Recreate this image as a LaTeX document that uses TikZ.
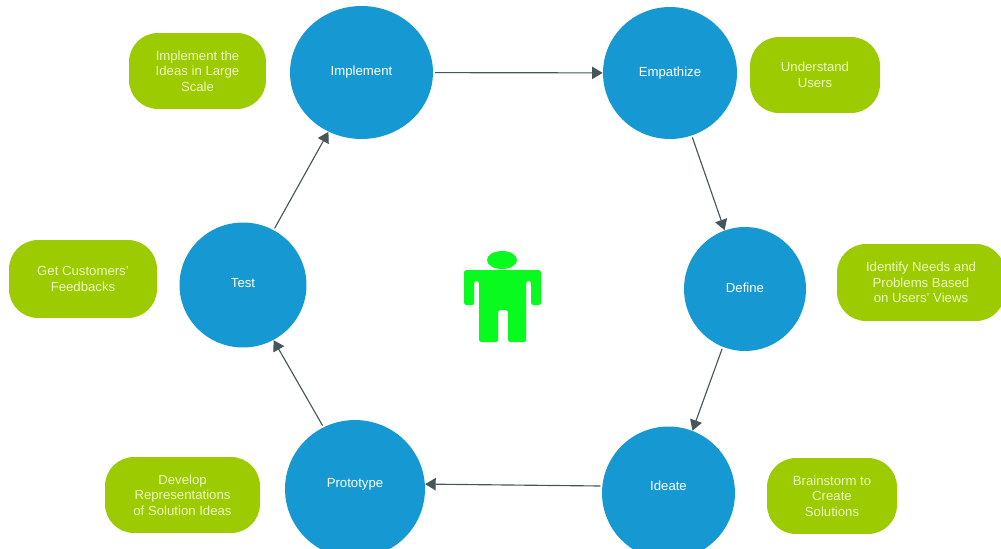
\documentclass[tikz,border=0pt]{standalone}
\usepackage{fontspec}
\setmainfont{Liberation Sans}
\usetikzlibrary{arrows.meta,shapes.geometric}
\definecolor{phaseblue}{HTML}{1699D3}
\definecolor{noteleaf}{HTML}{9BCB00}
\definecolor{figgreen}{HTML}{08FA1E}
\definecolor{flowgray}{HTML}{45575B}
\definecolor{notetext}{HTML}{EEF8C4}
\newcommand{\liftby}[2]{\raisebox{#1}[\height][\depth]{#2}}
\tikzset{
  phase/.style={ellipse,fill=phaseblue,text=white,inner sep=0pt,font=\fontsize{7.5}{9}\selectfont},
  note/.style={rectangle,rounded corners=0.58cm,fill=noteleaf,text=notetext,inner sep=0pt,align=center,font=\fontsize{7.5}{8.9}\selectfont},
  flow/.style={draw=flowgray,line width=0.65pt,-{Triangle[length=6pt,width=7pt]},shorten <=1pt}
}
\begin{document}
\begin{tikzpicture}[x=0.02cm,y=-0.02cm]
\useasboundingbox (0,0) rectangle (1001,548);
% phases
\node[phase,minimum width=2.86cm,minimum height=2.66cm] (implement) at (361.5,72.5) {\liftby{0.2pt}{Implement}};
\node[phase,minimum width=2.68cm,minimum height=2.64cm] (empathize) at (670,73) {Empathize};
\node[phase,minimum width=2.44cm,minimum height=2.48cm] (define) at (745,289) {\liftby{0.6pt}{Define}};
\node[phase,minimum width=2.66cm,minimum height=2.66cm] (ideate) at (668.5,493) {\liftby{4pt}{Ideate}};
\node[phase,minimum width=2.80cm,minimum height=2.76cm] (prototype) at (355,489) {\liftby{2.9pt}{Prototype}};
\node[phase,minimum width=2.54cm,minimum height=2.50cm] (test) at (243,285) {\liftby{1.1pt}{Test}};
% notes
\node[note,minimum width=2.74cm,minimum height=1.52cm] (implementnote) at (197.5,71) {Implement the\\Ideas in Large\\Scale};
\node[note,minimum width=2.60cm,minimum height=1.52cm] (empathizenote) at (815,75) {Understand\\Users};
\node[note,minimum width=3.36cm,minimum height=1.54cm] (definenote) at (921,282.5) {Identify Needs and\\Problems Based\\on Users' Views};
\node[note,minimum width=2.60cm,minimum height=1.52cm] (ideatenote) at (832,496) {Brainstorm to\\Create\\Solutions};
\node[note,minimum width=3.10cm,minimum height=1.52cm] (prototypenote) at (182.5,495) {Develop\\Representations\\of Solution Ideas};
\node[note,minimum width=2.96cm,minimum height=1.56cm] (testnote) at (83,279) {Get Customers'\\Feedbacks};
% arrows
\draw[flow] (implement) -- (empathize);
\draw[flow] (empathize) -- (define);
\draw[flow] (define.-111) -- (ideate.69);
\draw[flow] (ideate.174) -- (prototype.4);
\draw[flow] (prototype.117) -- (test.-61);
\draw[flow] (test) -- (implement);
% person
\fill[figgreen] (502,260) ellipse (15 and 9);
\fill[figgreen,rounded corners=1pt] (464,270) -- (541,270) -- (541,305) -- (531,305) -- (531,281) -- (526,281) -- (526,342) -- (508,342) -- (508,310) -- (498,310) -- (498,342) -- (479,342) -- (479,281) -- (474,281) -- (474,305) -- (464,305) -- cycle;
\end{tikzpicture}
\end{document}
